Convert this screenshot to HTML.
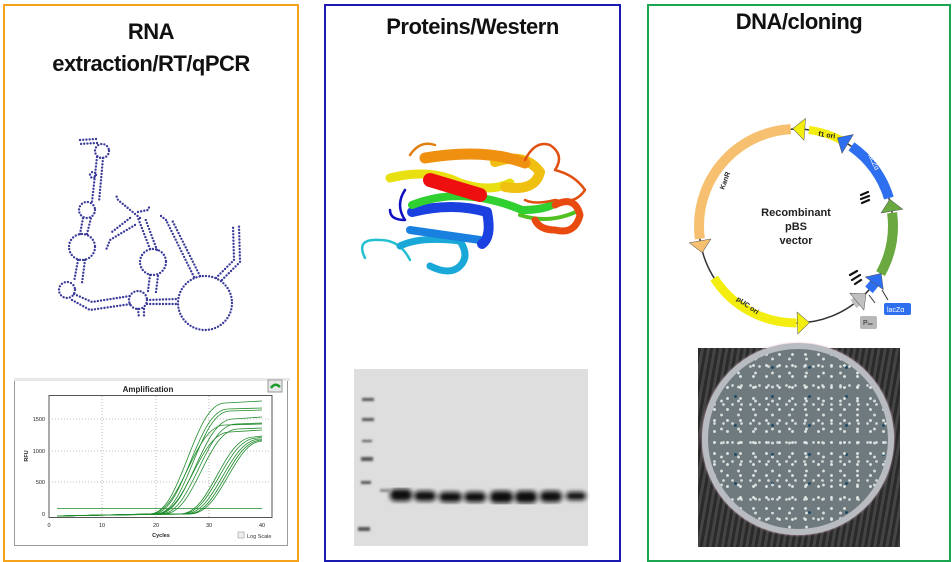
<!DOCTYPE html>
<html><head><meta charset="utf-8"><style>
body{margin:0;width:952px;height:562px;background:#fff;position:relative;overflow:hidden;font-family:"Liberation Sans",sans-serif}
.box{position:absolute;top:4px;height:554px;border:2px solid}
.t{position:absolute;font-weight:bold;font-size:22px;color:#111;text-align:center;letter-spacing:-0.5px;white-space:nowrap}
.plate{position:absolute;left:698px;top:348px;width:202px;height:199px;background:repeating-linear-gradient(100deg,#2a2a2a 0 3px,#444 3px 6px)}
.dish{position:absolute;left:4px;top:-5px;width:192px;height:192px;border-radius:50%;background:#b8bcc0;box-shadow:0 0 2px #f0c0d8}
.agar{position:absolute;left:6px;top:6px;width:180px;height:180px;border-radius:50%;background-color:#6f7a7e;
background-image:radial-gradient(circle,#dfe5e2 1.2px,transparent 1.7px),radial-gradient(circle,#d8dfdc 1.2px,transparent 1.7px),radial-gradient(circle,#d6dcd9 1.1px,transparent 1.6px),radial-gradient(circle,#1e4a66 1.2px,transparent 1.7px);
background-size:13px 11px,17px 14px,9px 19px,37px 29px;background-position:0 0,5px 3px,2px 8px,9px 4px}
</style></head><body>
<div class="box" style="left:3px;width:292px;border-color:#f5a31a"></div>
<div class="box" style="left:324px;width:293px;border-color:#1a1ab0"></div>
<div class="box" style="left:647px;width:300px;border-color:#1aa550"></div>
<div class="t" style="left:3px;width:296px;top:16px;line-height:32px">RNA<br>extraction/RT/qPCR</div>
<div class="t" style="left:324px;width:297px;top:14px">Proteins/Western</div>
<div class="t" style="left:647px;width:304px;top:9px">DNA/cloning</div>

<svg width="952" height="562" style="position:absolute;left:0;top:0">
<!-- RNA -->
<g fill="none" stroke="#3b3b9a" stroke-width="2.4" stroke-linecap="round" stroke-dasharray="0 3.2">
<circle cx="205" cy="303" r="27"/><circle cx="82" cy="247" r="13"/><circle cx="87" cy="210" r="8"/>
<circle cx="153" cy="262" r="13"/><circle cx="67" cy="290" r="8"/><circle cx="138" cy="300" r="9"/>
<circle cx="102" cy="151" r="7"/><circle cx="93" cy="175" r="3"/>
<path d="M97,157 L92,202 M103,158 L99,202 M80,234 L83,218 M87,234 L91,218"/>
<path d="M78,260 L74,282 M85,260 L82,283"/>
<path d="M96,139 L80,140 M97,143 L79,144"/>
<path d="M74,294 L92,302 L130,296 M72,300 L90,310 L131,304"/>
<path d="M147,300 L178,299 M147,304 L178,304"/>
<path d="M148,291 L150,275 M156,292 L158,276"/>
<path d="M150,249 L138,218 M157,250 L145,218"/>
<path d="M140,218 L118,200 L116,195 M138,212 L148,210 L150,205"/>
<path d="M135,225 L110,240 L106,250 M130,218 L112,232"/>
<path d="M194,277 L166,220 M200,276 L172,220 M166,220 L161,216"/>
<path d="M216,278 L234,260 L233,225 M222,280 L240,262 L239,225"/>
<path d="M138,309 L139,318 M144,309 L144,318"/>
</g>
<!-- qPCR chart -->
<rect x="14.5" y="378.5" width="273" height="167" fill="#fff" stroke="#9a9a9a"/>
<rect x="14" y="378" width="276" height="3" fill="#e8e8e8"/>
<rect x="268" y="380" width="14" height="12" fill="#e8e8e8" stroke="#999"/>
<path d="M271,388 q4,-6 9,-1" stroke="#1a9a2a" stroke-width="2.5" fill="none"/>
<text x="148" y="392" font-size="8" font-weight="bold" text-anchor="middle" fill="#222">Amplification</text>
<rect x="49" y="395.5" width="223" height="122" fill="#fff" stroke="#555"/>
<g stroke="#aaa" stroke-dasharray="1 2" stroke-width="0.8">
<path d="M102,396 V517 M156,396 V517 M209,396 V517 M49,419 H272 M49,451 H272 M49,482 H272"/></g>
<g font-size="5.5" fill="#222" text-anchor="end">
<text x="45" y="421">1500</text><text x="45" y="453">1000</text><text x="45" y="484">500</text><text x="45" y="516">0</text></g>
<g font-size="5.5" fill="#222" text-anchor="middle">
<text x="49" y="527">0</text><text x="102" y="527">10</text><text x="156" y="527">20</text><text x="209" y="527">30</text><text x="262" y="527">40</text>
<text x="161" y="537" font-weight="bold">Cycles</text>
<text x="26" y="458" font-weight="bold" transform="rotate(-90 26 456)">RFU</text></g>
<rect x="238" y="532" width="6" height="6" fill="#eee" stroke="#999" stroke-width="0.6"/>
<text x="247" y="538" font-size="5.5" fill="#333">Log Scale</text>
<g fill="none" stroke="#1e8a2a" stroke-width="0.8">
<path d="M57,508.6 H262"/>
<path d="M57,516 Q100,515 150,514 C182,514 193,403 225,403 L262,401"/>
<path d="M57,516 Q100,515 153,514 C185,514 196,409 228,409 L262,408"/>
<path d="M57,516 Q100,515 156,514 C188,514 198,411 230,411 L262,410"/>
<path d="M57,516 Q100,515 158,514 C190,514 201,419 233,419 L262,417"/>
<path d="M57,516 Q100,515 150,514 C182,514 193,425 225,425 L262,424"/>
<path d="M57,516 Q100,515 161,514 C193,514 204,424 236,424 L262,423"/>
<path d="M57,516 Q100,515 156,514 C188,514 198,432 230,432 L262,430"/>
<path d="M57,516 Q100,515 164,514 C196,514 206,429 238,429 L262,428"/>
<path d="M57,516 Q100,515 180,514 C212,514 222,437 254,437 L262,436"/>
<path d="M57,516 Q100,515 182,514 C214,514 225,438 257,438 L262,437"/>
<path d="M57,516 Q100,515 185,514 C217,514 228,439 260,439 L262,439"/>
<path d="M57,516 Q100,515 188,514 C220,514 230,440 262,440"/>
<path d="M57,516 Q100,515 190,514 C222,514 233,442 262,441"/>
</g>
<!-- Protein -->
<g fill="none" stroke-linecap="round" stroke-linejoin="round">
<path d="M365,258 q-10,-20 15,-18 q20,0 30,20" stroke="#22c0d0" stroke-width="2.5"/>
<path d="M400,246 q20,-10 60,-5 q10,15 0,25 q-10,10 -30,0" stroke="#1aa8d8" stroke-width="7"/>
<path d="M410,230 l70,10" stroke="#1a80e0" stroke-width="8"/>
<path d="M412,212 q40,-10 75,0 q5,25 -5,32" stroke="#1a40e0" stroke-width="10"/>
<path d="M405,190 q-10,15 0,30 q-15,0 -15,-10" stroke="#1010c0" stroke-width="2.5"/>
<path d="M412,205 q50,-20 110,5 q20,0 30,-5" stroke="#30d030" stroke-width="8"/>
<path d="M520,215 q30,10 60,-5" stroke="#50c020" stroke-width="4"/>
<path d="M390,178 q40,-10 70,5 q30,10 50,0" stroke="#e8e010" stroke-width="9"/>
<path d="M495,162 q30,-10 45,10 q-5,20 -35,15" stroke="#f0c010" stroke-width="10"/>
<path d="M430,180 l50,15" stroke="#ee1010" stroke-width="14"/>
<path d="M425,158 q60,-10 100,5" stroke="#f09010" stroke-width="11"/>
<path d="M410,155 q10,-15 25,-10" stroke="#e08010" stroke-width="2.5"/>
<path d="M525,160 q10,-20 25,-15 q15,10 5,25 q20,5 30,20 q-10,15 -30,10 q-20,5 -30,0" stroke="#e05010" stroke-width="2.5"/>
<path d="M555,205 q20,-10 25,10 q-5,20 -25,15 q-15,0 -20,-10" stroke="#e84a10" stroke-width="7"/>
</g>
<!-- Western blot -->
<defs><filter id="bl"><feGaussianBlur stdDeviation="2.5"/></filter>
<filter id="bl2"><feGaussianBlur stdDeviation="1"/></filter></defs>
<rect x="354" y="369" width="234" height="177" fill="#dedede"/>
<g filter="url(#bl)" fill="#111">
<rect x="390" y="489" width="22" height="12" rx="5"/><rect x="414" y="491" width="22" height="10" rx="5"/>
<rect x="439" y="492" width="23" height="10" rx="5"/><rect x="464" y="492" width="22" height="10" rx="5"/>
<rect x="490" y="491" width="23" height="12" rx="5"/><rect x="515" y="491" width="22" height="12" rx="5"/>
<rect x="540" y="491" width="22" height="11" rx="5"/><rect x="566" y="492" width="20" height="8" rx="4"/>
</g>
<g filter="url(#bl2)" fill="#555">
<rect x="362" y="398" width="12" height="3"/><rect x="362" y="418" width="12" height="3"/><rect x="362" y="440" width="10" height="2"/>
<rect x="361" y="457" width="12" height="4"/><rect x="361" y="481" width="10" height="3"/><rect x="358" y="527" width="12" height="4"/>
<rect x="380" y="489" width="10" height="3" fill="#888"/></g>
<!-- Plasmid -->
<circle cx="796" cy="226" r="97" fill="none" stroke="#333" stroke-width="1.5"/>
<g fill="none" stroke-width="10" transform="rotate(-90 796 226)">
<circle cx="796" cy="226" r="97" stroke="#f6c070" stroke-dasharray="160 1000" stroke-dashoffset="-444"/>
<circle cx="796" cy="226" r="97" stroke="#f4ee10" stroke-dasharray="98 1000" stroke-dashoffset="-304" stroke-width="9"/>
<circle cx="796" cy="226" r="97" stroke="#f4ee10" stroke-dasharray="34 1000" stroke-dashoffset="-13" stroke-width="8"/>
<circle cx="796" cy="226" r="97" stroke="#2e6ff0" stroke-dasharray="65 1000" stroke-dashoffset="-59"/>
<circle cx="796" cy="226" r="97" stroke="#6aa840" stroke-dasharray="63 1000" stroke-dashoffset="-139"/>
<circle cx="796" cy="226" r="97" stroke="#2e6ff0" stroke-dasharray="12 1000" stroke-dashoffset="-210"/>
<circle cx="796" cy="226" r="97" stroke="#c0c0c0" stroke-dasharray="7 1000" stroke-dashoffset="-236"/>
</g>
<g stroke-width="0.5" stroke="#555">
<polygon points="786,129 798,118 798,140" fill="#f4ee10" transform="rotate(4 796 226)"/>
<polygon points="786,129 798,118 798,140" fill="#2e6ff0" transform="rotate(31 796 226)"/>
<polygon points="786,129 798,118 798,140" fill="#6aa840" transform="rotate(80 796 226)"/>
<polygon points="786,129 798,118 798,140" fill="#2e6ff0" transform="rotate(125 796 226)"/>
<polygon points="786,129 798,118 798,140" fill="#c0c0c0" transform="rotate(140 796 226)"/>
<polygon points="786,129 798,118 798,140" fill="#f4ee10" transform="rotate(178 796 226)"/>
<polygon points="786,129 798,118 798,140" fill="#f6c070" transform="rotate(260 796 226)"/>
</g>
<text x="796" y="216" font-size="11" font-weight="bold" text-anchor="middle" fill="#222">Recombinant</text>
<text x="796" y="230" font-size="11" font-weight="bold" text-anchor="middle" fill="#222">pBS</text>
<text x="796" y="244" font-size="11" font-weight="bold" text-anchor="middle" fill="#222">vector</text>
<g font-size="7" font-weight="bold" fill="#222">
<text x="818" y="136" transform="rotate(8 818 136)">f1 ori</text>
<text x="724" y="190" transform="rotate(-70 724 190)">KanR</text>
<text x="736" y="300" transform="rotate(35 736 300)">pUC ori</text>
<text x="868" y="155" fill="#fff" font-weight="normal" transform="rotate(65 868 155)">lacZα</text></g>
<rect x="884" y="303" width="27" height="12" rx="2" fill="#2e6ff0"/>
<text x="887" y="312" font-size="7" fill="#fff">lacZα</text>
<rect x="860" y="316" width="17" height="13" rx="2" fill="#b8b8b8"/>
<text x="863" y="325" font-size="7" fill="#222">P<tspan font-size="4">lac</tspan></text>
<path d="M875,303 L869,295 M888,300 L882,290" stroke="#333"/>
<g stroke="#111" stroke-width="2.2" stroke-linecap="round">
<path d="M861,195 l7,-3 M861,199 l8,-3 M862,203 l7,-3 M850,275 l7,-4 M852,280 l8,-5 M855,284 l6,-4"/></g>
</svg>
<div class="plate"><div class="dish"><div class="agar"></div></div></div>
</body></html>
